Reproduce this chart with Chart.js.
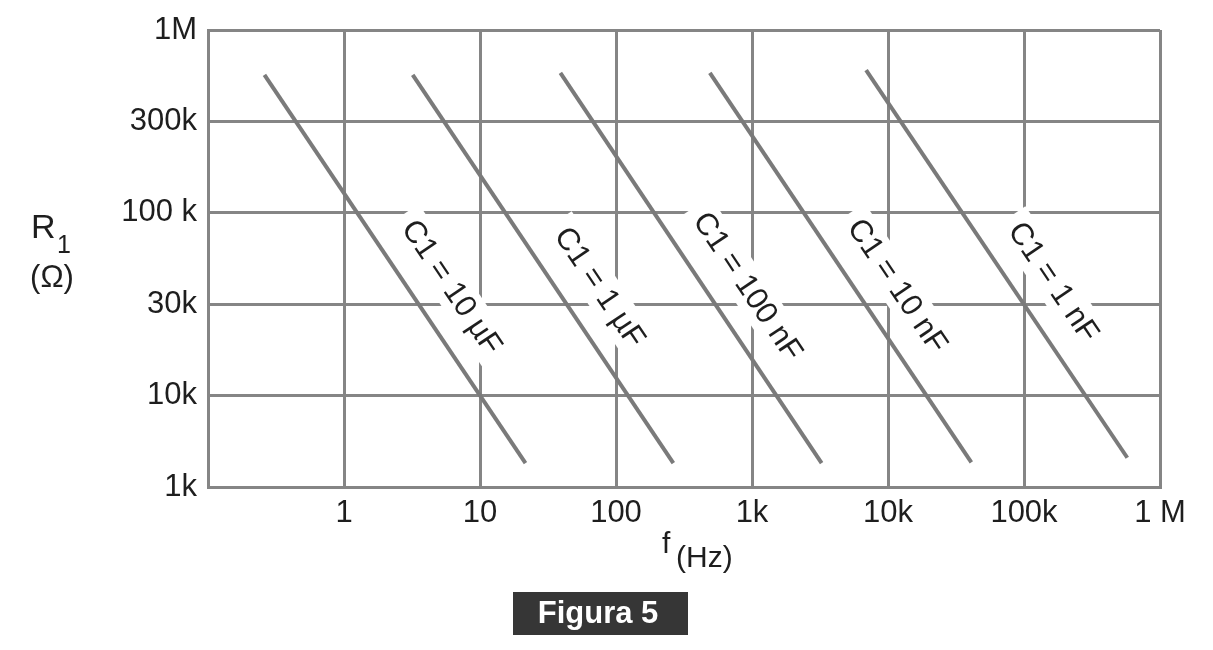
<!DOCTYPE html>
<html>
<head>
<meta charset="utf-8">
<script src="https://cdn.jsdelivr.net/npm/chart.js@4.4.0/dist/chart.umd.min.js"></script>
<style>
  body { margin: 0; background: #fff; }
  #wrap { width: 1213px; height: 650px; }
</style>
</head>
<body>
<div id="wrap"><canvas id="chart" width="1213" height="650"></canvas></div>
<script>
// axis ticks
const xTickValues = [0.1, 1, 10, 100, 1e3, 1e4, 1e5, 1e6];
const xTickLabels = ['', '1', '10', '100', '1k', '10k', '100k', '1 M'];
const yTickLabels = ['1k', '10k', '30k', '100 k', '300k', '1M'];  // evenly spaced on the original

// one straight line per capacitor, start and end
// f in Hz, R as position on the R1 tick grid (0 = 1k ... 5 = 1M)
const capLabels = ['C1 = 10 µF', 'C1 = 1 µF', 'C1 = 100 nF', 'C1 = 10 nF', 'C1 = 1 nF'];
const startF = [0.26, 3.2, 39, 490, 6900];
const endF = [21.6, 264, 3250, 41000, 575000];
const startR = [4.51, 4.51, 4.53, 4.53, 4.56];
const endR = [0.26, 0.26, 0.26, 0.27, 0.32];

const FONT = "'Liberation Sans', Arial, sans-serif";
const gridGray = '#858585';
const lineGray = '#7a7a7a';
const textCol = '#1e1e1e';

let datasets = capLabels.map((lbl, i) => ({
  label: lbl,
  data: [{x: startF[i], y: startR[i]}, {x: endF[i], y: endR[i]}],
  borderColor: lineGray,
  borderWidth: 4,
  borderCapStyle: 'butt',
  pointRadius: 0,
  tension: 0
}));

// rotated C1 labels with a white patch that hides the grid behind them
const capLabelPlugin = {
  id: 'capLabels',
  beforeDatasetsDraw(chart) {
    const ctx = chart.ctx;
    ctx.save();
    ctx.font = '31px ' + FONT;
    chart.data.datasets.forEach((ds, i) => {
      let pts = chart.getDatasetMeta(i).data;
      let x0 = pts[0].x, y0 = pts[0].y, x1 = pts[1].x, y1 = pts[1].y;
      let a = Math.atan2(y1 - y0, x1 - x0);
      let t = 0.6, off = 37;
      let cx = x0 + (x1 - x0) * t + Math.sin(a) * off;
      let cy = y0 + (y1 - y0) * t - Math.cos(a) * off;
      let w = ctx.measureText(ds.label).width;
      ctx.save();
      ctx.translate(cx, cy);
      ctx.rotate(a);
      ctx.fillStyle = '#fff';
      ctx.fillRect(-w / 2 - 10, -19, w + 20, 38);
      ctx.fillStyle = textCol;
      ctx.textAlign = 'center';
      ctx.textBaseline = 'middle';
      ctx.fillText(ds.label, 0, 1);
      ctx.restore();
    });
    ctx.restore();
  }
};

// axis names and the figure caption
const extrasPlugin = {
  id: 'extras',
  afterDraw(chart) {
    const ctx = chart.ctx;
    ctx.save();
    ctx.fillStyle = textCol;
    ctx.textBaseline = 'alphabetic';
    ctx.textAlign = 'left';
    ctx.font = '34px ' + FONT;
    ctx.fillText('R', 31, 238);
    ctx.font = '25px ' + FONT;
    ctx.fillText('1', 57, 253);
    ctx.font = '31px ' + FONT;
    ctx.textAlign = 'center';
    ctx.fillText('(Ω)', 52, 287);
    ctx.textAlign = 'left';
    ctx.font = '30px ' + FONT;
    ctx.fillText('f', 662, 553);
    ctx.fillText('(Hz)', 676, 567);

    ctx.fillStyle = '#363636';
    ctx.fillRect(513, 592, 175, 43);
    ctx.fillStyle = '#fff';
    ctx.font = 'bold 31px ' + FONT;
    ctx.textAlign = 'center';
    ctx.textBaseline = 'middle';
    ctx.fillText('Figura 5', 598, 614);
    ctx.restore();
  }
};

new Chart(document.getElementById('chart'), {
  type: 'line',
  data: { datasets: datasets },
  options: {
    responsive: false,
    animation: false,
    layout: { padding: { left: 0, top: 30, right: 53, bottom: 0 } },
    plugins: { legend: { display: false }, tooltip: { enabled: false } },
    scales: {
      x: {
        type: 'logarithmic',
        min: 0.1,
        max: 1e6,
        afterBuildTicks: s => { s.ticks = xTickValues.map(v => ({ value: v })); },
        afterFit: s => { s.height = 163; },
        grid: { color: gridGray, lineWidth: 3, drawTicks: false },
        border: { color: gridGray, width: 3 },
        ticks: {
          autoSkip: false,
          maxRotation: 0,
          padding: 8,
          color: textCol,
          font: { family: FONT, size: 31 },
          callback: (v, i) => xTickLabels[i]
        }
      },
      y: {
        type: 'linear',
        min: 0,
        max: 5,
        afterBuildTicks: s => { s.ticks = yTickLabels.map((l, i) => ({ value: i })); },
        afterFit: s => { s.width = 208; },
        grid: { color: gridGray, lineWidth: 3, drawTicks: false },
        border: { color: gridGray, width: 3 },
        ticks: {
          autoSkip: false,
          padding: 11,
          color: textCol,
          font: { family: FONT, size: 31 },
          callback: (v, i) => yTickLabels[i]
        }
      }
    }
  },
  plugins: [capLabelPlugin, extrasPlugin]
});
</script>
</body>
</html>
